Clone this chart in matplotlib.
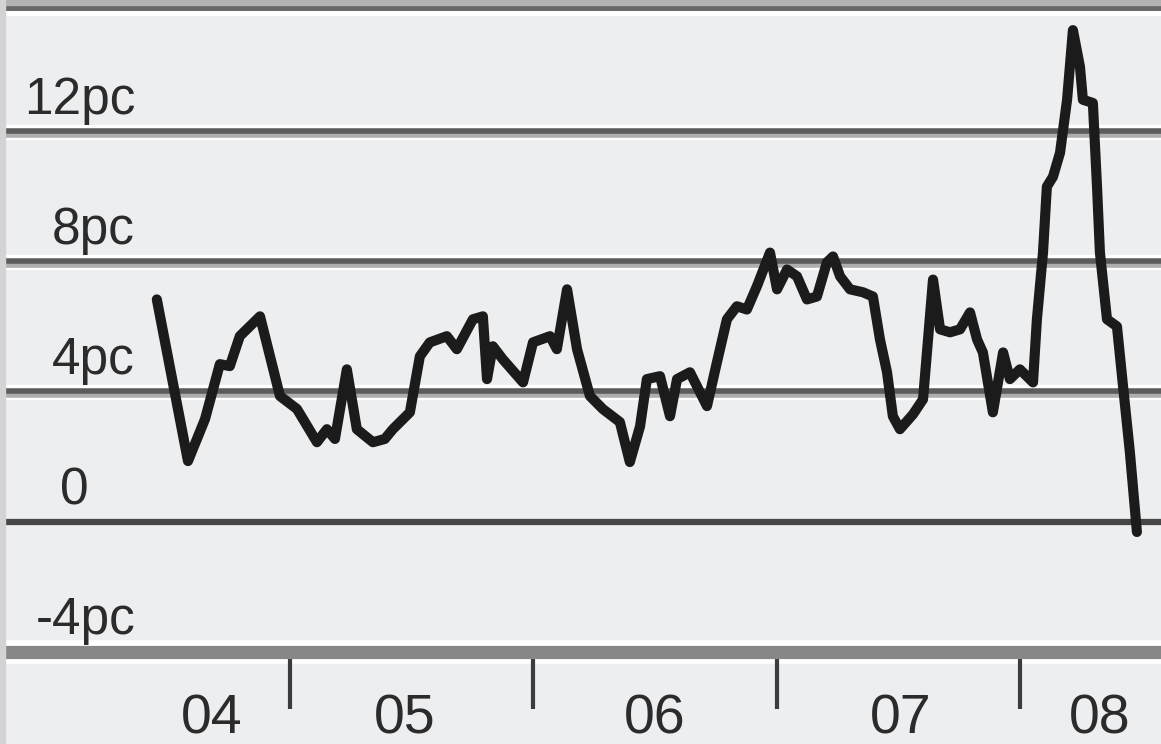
import numpy as np
import matplotlib.pyplot as plt
from matplotlib.patches import Rectangle

plt.rcParams['font.family'] = ['Liberation Sans', 'DejaVu Sans']

# annual change, per cent (decimal year, value)
dates = [2004.453, 2004.581, 2004.651, 2004.712, 2004.753, 2004.794, 2004.877, 2004.959,
         2005.029, 2005.111, 2005.152, 2005.185, 2005.234, 2005.275, 2005.341, 2005.390,
         2005.423, 2005.493, 2005.534, 2005.575, 2005.645, 2005.686, 2005.752, 2005.793,
         2005.810, 2005.834, 2005.875, 2005.958, 2005.999, 2006.069, 2006.097, 2006.139,
         2006.180, 2006.233, 2006.286, 2006.356, 2006.397, 2006.439, 2006.467, 2006.521,
         2006.562, 2006.591, 2006.644, 2006.714, 2006.755, 2006.796, 2006.837, 2006.878,
         2006.919, 2006.973, 2007.002, 2007.043, 2007.084, 2007.125, 2007.166, 2007.207,
         2007.232, 2007.261, 2007.302, 2007.355, 2007.396, 2007.425, 2007.454, 2007.478,
         2007.507, 2007.561, 2007.602, 2007.643, 2007.672, 2007.713, 2007.754, 2007.795,
         2007.824, 2007.848, 2007.889, 2007.931, 2007.959, 2008.000, 2008.054, 2008.070,
         2008.095, 2008.111, 2008.136, 2008.165, 2008.194, 2008.218, 2008.247, 2008.259,
         2008.300, 2008.317, 2008.329, 2008.358, 2008.399, 2008.424, 2008.452, 2008.481]
values = [6.84, 1.87, 3.16, 4.85, 4.79, 5.71, 6.32, 3.87,
          3.47, 2.45, 2.85, 2.55, 4.69, 2.85, 2.45, 2.55,
          2.85, 3.37, 5.09, 5.52, 5.71, 5.31, 6.23, 6.32,
          4.39, 5.40, 5.00, 4.29, 5.52, 5.71, 5.31, 7.15,
          5.31, 3.87, 3.47, 3.07, 1.84, 2.94, 4.39, 4.48,
          3.25, 4.39, 4.60, 3.56, 4.91, 6.23, 6.63, 6.53,
          7.24, 8.28, 7.15, 7.76, 7.55, 6.84, 6.93, 7.98,
          8.16, 7.55, 7.15, 7.06, 6.93, 5.61, 4.60, 3.25,
          2.85, 3.31, 3.77, 7.45, 5.92, 5.83, 5.92, 6.44,
          5.61, 5.21, 3.37, 5.21, 4.39, 4.69, 4.29, 6.23,
          8.28, 10.31, 10.61, 11.35, 12.98, 15.12, 13.99, 12.98,
          12.88, 10.31, 8.28, 6.23, 6.01, 4.17, 2.15, -0.31]

grid_vals = [12, 8, 4]
y_labels = ['12pc', '8pc', '4pc', '0', '-4pc']
y_label_vals = [12, 8, 4, 0, -4]
year_ticks = [2005, 2006, 2007, 2008]
year_label_pos = [2004.68, 2005.47, 2006.50, 2007.51, 2008.33]
year_labels = ['04', '05', '06', '07', '08']

BG = '#edeef0'
fig = plt.figure(figsize=(11.61, 7.44), dpi=100, facecolor=BG)
ax = fig.add_axes([5/1161, 1 - 652/744, 1156/1161, 644/744])
ax.set_facecolor(BG)
ylo, yhi = -4, 15.8
ax.set_ylim(ylo, yhi)
ax.set_xlim(2003.829, 2008.58)
px = (yhi - ylo) / 644  # one pixel in data units, for line styling only

for s in ax.spines.values():
    s.set_visible(False)

# grid lines: white halo, dark line, lighter shadow beneath
for v in grid_vals:
    ax.axhline(v, color='white', lw=11, zorder=1)
    ax.axhline(v - 3*px, color='#aeaeae', lw=4, zorder=2)
    ax.axhline(v + 1*px, color='#5c5c5c', lw=4, zorder=3)
ax.axhline(0, color='#464646', lw=4.5, zorder=3)
# bottom rule (-4)
ax.axhline(-4, color='white', lw=17, zorder=1, clip_on=False)
ax.axhline(-4, color='#878787', lw=9.5, zorder=2, clip_on=False)
# top rule
ax.axhline(yhi, color='white', lw=11, zorder=1, clip_on=False)
ax.axhline(yhi + 0.5*px, color='#676767', lw=5, zorder=2, clip_on=False)
fig.patches.append(Rectangle((0, 1 - 5/744), 1, 5/744, transform=fig.transFigure,
                             color='#b2b2b2', zorder=0))
fig.patches.append(Rectangle((0, 0), 5/1161, 1, transform=fig.transFigure,
                             color='#d3d3d5', zorder=0))

ax.plot(dates, values, color='#1b1b1b', lw=7.3, solid_joinstyle='round',
        solid_capstyle='round', zorder=5)

# y labels sit just above their rule
for v, lab in zip(y_label_vals, y_labels):
    xr = 0.072 if lab == '0' else 0.1125
    ax.text(xr, v + 0.55, lab, transform=ax.get_yaxis_transform(), ha='right',
            va='baseline', fontsize=37, color='#2b2b2b', zorder=6)

ax.set_yticks([])
ax.set_xticks(year_ticks)
ax.set_xticks(year_label_pos, year_labels, minor=True)
ax.tick_params(axis='x', which='major', length=41, width=3, color='#3c3c3c',
               direction='out', labelbottom=False)
ax.tick_params(axis='x', which='minor', length=0, pad=30, labelsize=40,
               labelcolor='#2b2b2b')

fig.savefig('out.png', dpi=100, facecolor=BG)
